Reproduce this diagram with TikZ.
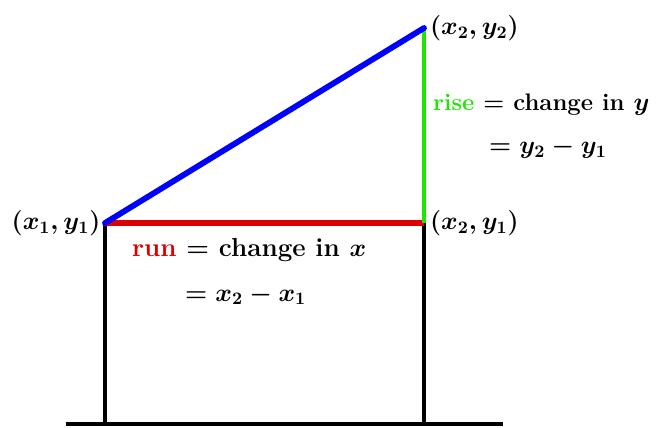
\documentclass[tikz,border=0pt]{standalone}
\usepackage{amsmath, amssymb}
\usepackage{xcolor}
\usetikzlibrary{calc,positioning}
\definecolor{runred}{RGB}{220,0,0}
\definecolor{risegreen}{RGB}{30,230,0}
\definecolor{lineblue}{RGB}{0,0,255}
\tikzset{
  lbl/.style={font=\fontsize{14.8}{18}\selectfont\bfseries\boldmath, inner sep=1pt},
  post/.style={line width=2.8pt}
}
\begin{document}
\begin{tikzpicture}
                \useasboundingbox (0,0) rectangle (13.34,8.54);
                % the three corners
                \coordinate (A) at (2.10,4.08);
                \coordinate (B) at (8.48,7.98);
                \coordinate (C) at (8.48,4.08);
                % ground
                \coordinate (gl) at (1.32,0.06);
                \coordinate (gr) at (10.06,0.06);
                \coordinate (fa) at (2.10,0.06);
                \coordinate (fc) at (8.48,0.06);
                \draw[line width=2.5pt] (gl) -- (gr);
                % posts
                \draw[post] (A) -- (fa);
                \draw[post] (C) -- (fc);
                % run and rise
                \draw[runred, line width=3.6pt] (A) -- (C);
                \draw[risegreen, line width=2.8pt] (C) -- (B);
                % the line
                \draw[lineblue, line width=3.3pt, line cap=round] (A) -- (B);
                % points
                \node[lbl, anchor=east] (pa) at ($(A)+(-0.05,0)$) {$(x_1,y_1)$};
                \node[lbl, anchor=west] (pb) at ($(B)+(0.08,0)$) {$(x_2,y_2)$};
                \node[lbl, anchor=west] (pc) at ($(C)+(0.08,0)$) {$(x_2,y_1)$};
                % labels
                \node[lbl, anchor=west] (run) at (2.60,3.54) {\textcolor{runred}{run} = change in $x$};
                \node[lbl, anchor=west] (runeq) at (3.66,2.64) {$= x_2 - x_1$};
                \node[lbl, anchor=west, font=\fontsize{13.6}{16}\selectfont\bfseries\boldmath] (rise) at (8.62,6.44) {\textcolor{risegreen}{rise} = change in $y$};
                \node[lbl, anchor=west] (riseeq) at (9.74,5.58) {$= y_2 - y_1$};
              \end{tikzpicture}
\end{document}
